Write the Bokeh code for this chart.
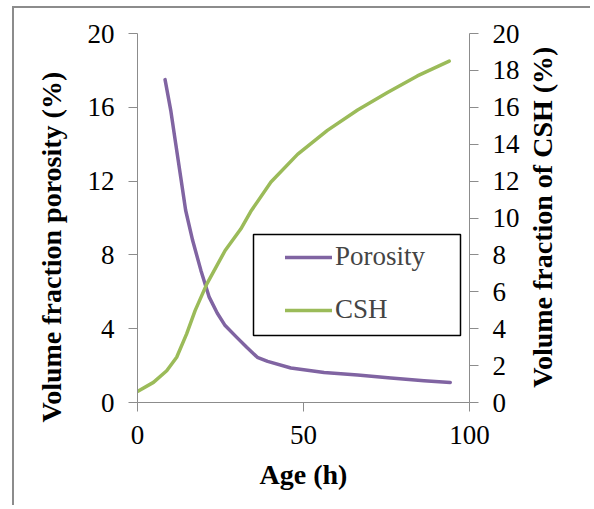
import math
from bokeh.plotting import figure
from bokeh.models import (Range1d, LinearAxis, SingleIntervalTicker, FixedTicker, Legend,
                          LegendItem, BoxAnnotation, Title)
from bokeh.embed import file_html
from bokeh.resources import INLINE

# ---- data ----
age_porosity = [8.3, 10.0, 11.5, 13.0, 14.5, 16.6, 19.1, 21.6, 24.0, 26.4, 29.9,
                32.9, 36.1, 39.2, 46.2, 56.2, 66.3, 76.3, 86.3, 94.2]
porosity = [17.5, 15.85, 14.04, 12.23, 10.42, 8.79, 7.16, 5.71, 4.85, 4.17, 3.53,
            2.99, 2.45, 2.23, 1.87, 1.63, 1.49, 1.33, 1.18, 1.09]

age_csh = [0, 4.8, 8.8, 11.8, 14.8, 17.35, 20.9, 26.4, 31.1, 34.1, 40.2, 48.2,
           57.2, 66.3, 75.3, 84.3, 93.9]
csh = [0.6, 1.09, 1.72, 2.45, 3.72, 4.98, 6.43, 8.24, 9.4, 10.35, 11.95, 13.45,
       14.75, 15.85, 16.8, 17.7, 18.5]

x_label = "Age (h)"
y_left_label = "Volume fraction porosity (%)"
y_right_label = "Volume fraction of CSH (%)"
series_names = ["Porosity", "CSH"]

PURPLE = "#8064A2"
GREEN = "#9BBB59"
AXIS_GRAY = "#8C8C8C"
FONT = "Liberation Serif"
FS = "27px"
TITLE_FS = "28px"

W, H = 590, 505
p = figure(width=W, height=H, output_backend="svg", toolbar_location=None,
           x_range=Range1d(0, 100), y_range=Range1d(0, 20),
           min_border_left=137, min_border_right=W - 469, min_border_top=33,
           min_border_bottom=H - 402)
p.extra_y_ranges = {"csh": Range1d(0, 20)}
p.outline_line_color = None
p.grid.visible = False
p.background_fill_color = "white"
p.border_fill_color = None
# thin grey chart-area border (left and top edges), drawn behind the canvas
p.styles = {
    "background-color": "white",
    "background-image": ("linear-gradient(#8c8c8c, #8c8c8c), "
                         "linear-gradient(#8c8c8c, #8c8c8c)"),
    "background-position": "12px 6px, 12px 6px",
    "background-size": "2px 100%, 100% 2px",
    "background-repeat": "no-repeat",
}

r_por = p.line(age_porosity, porosity, line_color=PURPLE, line_width=3.5,
               line_join="round", line_cap="round")
r_csh = p.line(age_csh, csh, line_color=GREEN, line_width=3.5,
               line_join="round", line_cap="round", y_range_name="csh")

right = LinearAxis(y_range_name="csh")
p.add_layout(right, "right")

p.xaxis.ticker = SingleIntervalTicker(interval=50)
p.yaxis[0].ticker = SingleIntervalTicker(interval=4)
right.ticker = SingleIntervalTicker(interval=2)

for ax in [p.xaxis[0], p.yaxis[0], right]:
    ax.axis_line_color = AXIS_GRAY
    ax.axis_line_width = 1
    ax.major_tick_line_color = AXIS_GRAY
    ax.major_tick_in = 0
    ax.major_tick_out = 9
    ax.minor_tick_line_color = None
    ax.major_label_text_font = FONT
    ax.major_label_text_font_size = FS
    ax.major_label_text_color = "black"
    ax.major_label_standoff = 14
    ax.axis_label_text_font = FONT
    ax.axis_label_text_font_size = TITLE_FS
    ax.axis_label_text_font_style = "bold"
    ax.axis_label_text_color = "black"

p.xaxis[0].axis_label = x_label
p.xaxis[0].axis_label_standoff = 12

# left y title: a side-panel title, aligned from the bottom like the reference
left_title = Title(text=y_left_label, align="left", offset=-20, standoff=36,
                   text_font=FONT, text_font_size=TITLE_FS,
                   text_font_style="bold", text_color="black")
p.add_layout(left_title, "left")

# right y title, reading bottom-to-top: a bare outer axis whose only label
# starts where the reference title starts
TITLE_START = 0.8
title_axis = LinearAxis(y_range_name="csh", ticker=FixedTicker(ticks=[TITLE_START]),
                        major_label_overrides={TITLE_START: y_right_label},
                        major_label_orientation=math.pi / 2,
                        axis_line_color=None, major_tick_line_color=None,
                        minor_tick_line_color=None, major_tick_out=0,
                        major_tick_in=0, major_label_standoff=20,
                        major_label_text_font=FONT,
                        major_label_text_font_size=TITLE_FS,
                        major_label_text_font_style="bold",
                        major_label_text_color="black")
p.add_layout(title_axis, "right")

box = BoxAnnotation(left=116, right=323, bottom=67, top=168,
                    left_units="screen", right_units="screen",
                    bottom_units="screen", top_units="screen",
                    fill_color="white", fill_alpha=1.0,
                    line_color="black", line_alpha=1.0, line_width=1.5)
p.add_layout(box)

legend = Legend(items=[LegendItem(label=series_names[0], renderers=[r_por]),
                       LegendItem(label=series_names[1], renderers=[r_csh])],
                location=(148, 77), padding=0, spacing=22,
                glyph_width=47, glyph_height=30, label_height=30,
                label_standoff=3, border_line_color=None,
                background_fill_alpha=0,
                label_text_font=FONT, label_text_font_size=FS)
p.add_layout(legend)

open("out.html", "w").write(file_html(p, INLINE))
